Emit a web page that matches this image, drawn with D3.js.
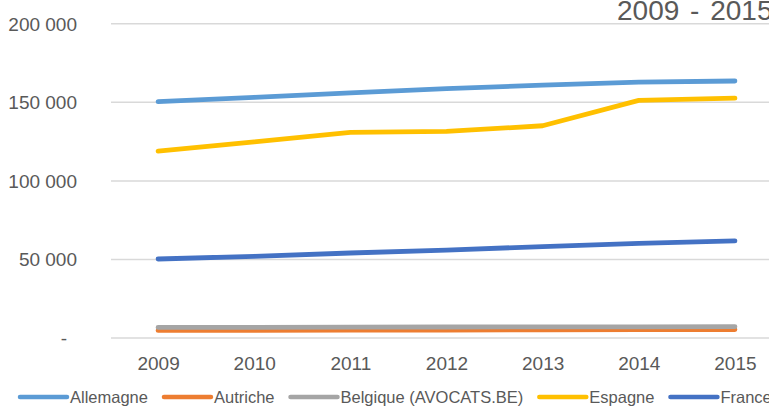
<!DOCTYPE html>
<html>
<head>
<meta charset="utf-8">
<script src="https://cdn.jsdelivr.net/npm/d3@7"></script>
<style>
  html, body { margin: 0; padding: 0; background: #fff; overflow: hidden; }
  svg { display: block; font-family: "Liberation Sans", Arial, sans-serif; }
  .tick text { fill: #595959; }
</style>
</head>
<body>
<svg id="chart" width="769" height="406"></svg>
<script>
// Nombre d'avocats 2009 - 2015
const years = ["2009", "2010", "2011", "2012", "2013", "2014", "2015"];
const yTicks = [0, 50000, 100000, 150000, 200000];

const allemagne = [150400, 153200, 156000, 158700, 160900, 162900, 163600];
const autriche  = [4800, 4900, 5000, 5100, 5200, 5300, 5400];
const belgique  = [6700, 6800, 6900, 7000, 7100, 7100, 7200];
const espagne   = [119000, 124900, 130900, 131500, 135100, 151300, 152700];
const france    = [50300, 52000, 54100, 56000, 58200, 60200, 61800];

const seriesNames  = ["Allemagne", "Autriche", "Belgique (AVOCATS.BE)", "Espagne", "France"];
const seriesValues = [allemagne, autriche, belgique, espagne, france];
const seriesColors = ["#5b9bd5", "#ed7d31", "#a5a5a5", "#ffc000", "#4472c4"];

/* ---------- setup ---------- */
const svg = d3.select("#chart");
const W = 769;

const x = d3.scalePoint().domain(years).range([110, 783]).padding(0.5);
const y = d3.scaleLinear().domain([0, 200000]).range([338, 23.8]);

const fmt = v => v === 0 ? "-" : d3.format(",")(v).replace(/,/g, " ");

// grille
svg.append("g").selectAll("line").data(yTicks).join("line")
  .attr("x1", 111).attr("x2", W + 20)
  .attr("y1", d => y(d)).attr("y2", d => y(d))
  .attr("stroke", "#d9d9d9").attr("stroke-width", 1.5);

// axe Y
const gy = svg.append("g")
  .attr("transform", "translate(77,0)")
  .call(d3.axisLeft(y).tickValues(yTicks).tickFormat(fmt).tickSize(0).tickPadding(0));
gy.select(".domain").remove();
gy.selectAll("text")
  .attr("font-size", 19)
  .attr("font-family", "Liberation Sans, Arial, sans-serif")
  .attr("dy", "0.34em")
  .filter(d => d === 0)
  .attr("text-anchor", "middle").attr("x", -13);

// axe X
const gx = svg.append("g")
  .attr("transform", "translate(0,356)")
  .call(d3.axisBottom(x).tickSize(0).tickPadding(0));
gx.select(".domain").remove();
gx.selectAll("text")
  .attr("font-size", 19)
  .attr("font-family", "Liberation Sans, Arial, sans-serif")
  .attr("dy", "0.71em");

// lignes
const line = d3.line().x((d, i) => x(years[i])).y(d => y(d));
svg.append("g").selectAll("path").data(seriesValues).join("path")
  .attr("d", d => line(d))
  .attr("fill", "none")
  .attr("stroke", (d, i) => seriesColors[i])
  .attr("stroke-width", 4.8)
  .attr("stroke-linecap", "round")
  .attr("stroke-linejoin", "round");

// titre (coupé à droite, comme l'original)
svg.append("text")
  .attr("x", 617).attr("y", 19.5)
  .attr("font-size", 28)
  .attr("word-spacing", 3)
  .attr("fill", "#595959")
  .text("2009 - 2015");

// légende
const leg = svg.append("g").attr("transform", "translate(0,397)");
let lx = 20;
seriesNames.forEach((name, i) => {
  leg.append("line")
    .attr("x1", lx).attr("x2", lx + 47)
    .attr("stroke", seriesColors[i])
    .attr("stroke-width", 4.5)
    .attr("stroke-linecap", "round");
  const t = leg.append("text")
    .attr("x", lx + 50).attr("dy", "0.35em")
    .attr("font-size", 16.5)
    .attr("fill", "#595959")
    .text(name);
  lx += 50 + t.node().getComputedTextLength() + 16;
});
</script>
</body>
</html>
